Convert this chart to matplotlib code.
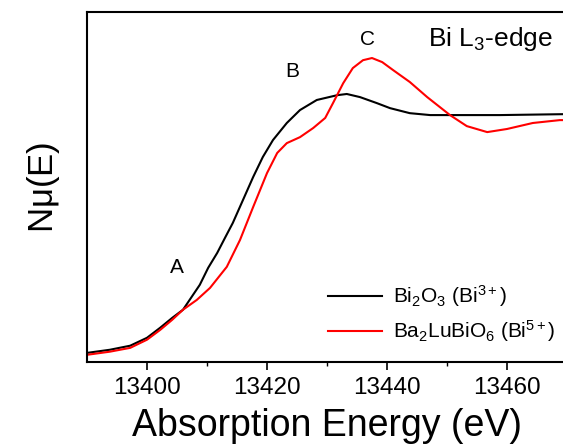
import numpy as np
import matplotlib
matplotlib.use('Agg')
import matplotlib.pyplot as plt

plt.rcParams['font.family'] = ['Liberation Sans', 'DejaVu Sans']
plt.rcParams['mathtext.fontset'] = 'custom'
plt.rcParams['mathtext.rm'] = 'Liberation Sans'
plt.rcParams['mathtext.it'] = 'Liberation Sans'

# Bi2O3 (Bi3+)
e_bi2o3 = [13390.0, 13393.8, 13397.2, 13400.0, 13402.2, 13404.2, 13406.0, 13408.8,
           13410.2, 13411.7, 13413.0, 13414.3, 13416.0, 13417.7, 13419.3, 13421.0,
           13423.3, 13425.5, 13428.3, 13431.7, 13433.3, 13435.5, 13438.3, 13440.5,
           13443.8, 13447.2, 13450.5, 13458.8, 13470.0]
mu_bi2o3 = [0.008, 0.021, 0.038, 0.071, 0.113, 0.154, 0.188, 0.292,
            0.363, 0.425, 0.488, 0.550, 0.646, 0.742, 0.825, 0.896,
            0.967, 1.021, 1.063, 1.083, 1.088, 1.075, 1.050, 1.029,
            1.008, 1.000, 1.000, 1.000, 1.004]

# Ba2LuBiO6 (Bi5+)
e_ba2lubio6 = [13390.0, 13393.8, 13397.2, 13400.0, 13402.2, 13404.2, 13406.0, 13408.3,
               13410.5, 13413.3, 13415.5, 13417.7, 13420.0, 13421.7, 13423.3, 13425.5,
               13427.7, 13429.7, 13431.0, 13432.7, 13434.3, 13436.0, 13437.5, 13439.2,
               13441.0, 13443.8, 13446.7, 13450.5, 13453.3, 13456.7, 13460.0, 13464.3,
               13468.8, 13470.0]
mu_ba2lubio6 = [0.000, 0.013, 0.029, 0.063, 0.104, 0.146, 0.188, 0.229,
                0.279, 0.367, 0.479, 0.617, 0.758, 0.842, 0.883, 0.908,
                0.946, 0.988, 1.050, 1.133, 1.196, 1.229, 1.238, 1.221,
                1.188, 1.138, 1.075, 1.000, 0.954, 0.929, 0.942, 0.967,
                0.979, 0.979]

# feature labels
feat_names = ['A', 'B', 'C']
feat_e = [13405.0, 13424.2, 13436.8]
feat_mu = [0.363, 1.183, 1.317]

fig = plt.figure(figsize=(5.63, 4.46), dpi=100)
ax = fig.add_axes([87 / 563, 84 / 446, 480 / 563, 350 / 446])

ax.plot(e_bi2o3, mu_bi2o3, color='black', lw=1.5, label=r'Bi$_2$O$_3$ (Bi$^{3+}$)')
ax.plot(e_ba2lubio6, mu_ba2lubio6, color='red', lw=1.5, label=r'Ba$_2$LuBiO$_6$ (Bi$^{5+}$)')

for name, x, y in zip(feat_names, feat_e, feat_mu):
    ax.text(x, y, name, fontsize=15, ha='center', va='center')
ax.text(13446.8, 1.317, r'Bi L$_3$-edge', fontsize=19, ha='left', va='center')

ax.set_xlim(13390, 13470)
ax.set_ylim(-0.03, 1.43)
ax.set_xticks([13400, 13420, 13440, 13460])
ax.set_xticks([13410, 13430, 13450], minor=True)
ax.set_yticks([])
ax.tick_params(axis='x', which='major', direction='out', length=6, width=1.2, labelsize=17.5, pad=5)
ax.tick_params(axis='x', which='minor', direction='out', length=3, width=1.0)
for s in ax.spines.values():
    s.set_linewidth(1.5)

ax.set_xlabel('Absorption Energy (eV)', fontsize=27, labelpad=6)
ax.set_ylabel(r'N$\mu$(E)', fontsize=25, labelpad=18)

ax.legend(loc='upper left', bbox_to_anchor=(0.502, 0.225), frameon=False,
          borderpad=0, borderaxespad=0, fontsize=15, handlelength=2.6,
          labelspacing=0.45, handletextpad=0.5)

fig.savefig('out.png', dpi=100)
